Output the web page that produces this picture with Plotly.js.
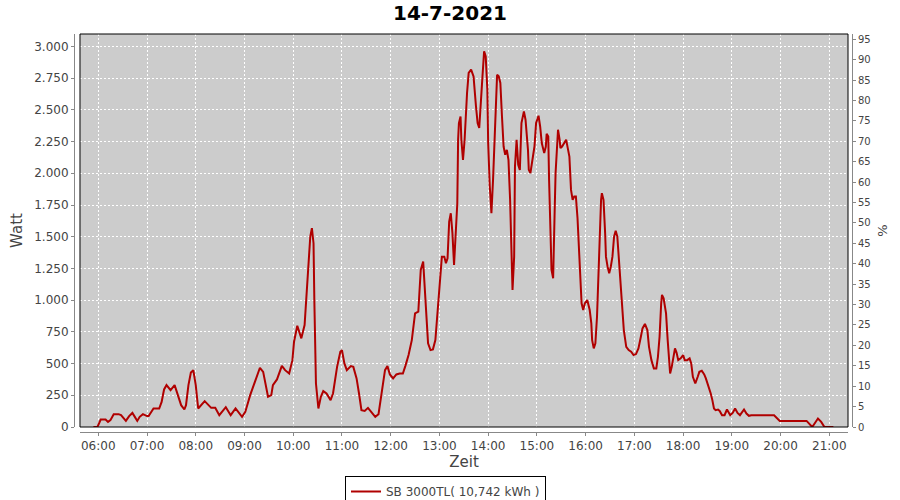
<!DOCTYPE html>
<html>
<head>
<meta charset="utf-8">
<script src="https://cdn.plot.ly/plotly-3.0.1.min.js"></script>
<style>html,body{margin:0;padding:0;background:#fff;}#chart{width:900px;height:500px;}</style>
</head>
<body>
<div id="chart"></div>
<script>
const chartDate = '2021-07-14';
const chartTitle = '14-7-2021';
const seriesName = 'SB 3000TL( 10,742 kWh )';

const times = ['05:54','05:59','06:03','06:09','06:12','06:15','06:19','06:25','06:28','06:34','06:38','06:42','06:45','06:48','06:51','06:55','07:00','07:02','07:08','07:15','07:18','07:21','07:24','07:29','07:34','07:38','07:42','07:46','07:48','07:51','07:54','07:57','08:00','08:03',
'08:11','08:19','08:24','08:29','08:37','08:43','08:49','08:57','09:01','09:07','09:13','09:19','09:23','09:29','09:33','09:35','09:40','09:46','09:50','09:55','09:59','10:01','10:05','10:10','10:14','10:16','10:19','10:21','10:23','10:25','10:26','10:28','10:31','10:34','10:37','10:41','10:46','10:49','10:54','10:58','11:00','11:03','11:06','11:11','11:14','11:18','11:21','11:24','11:28','11:32','11:37','11:41','11:45','11:48','11:51','11:53','11:56','11:59','12:03','12:07','12:11','12:15','12:18','12:22','12:26','12:28','12:30','12:34','12:35','12:37','12:40','12:42','12:44','12:46','12:49','12:52','12:55','12:58','13:01','13:03','13:06','13:08','13:10','13:12','13:14','13:16','13:18','13:20','13:22','13:23','13:24','13:26','13:27','13:29','13:31','13:34','13:36','13:39','13:42','13:45','13:47','13:49','13:51','13:53','13:55','13:57','13:59','14:00','14:02','14:04','14:06','14:07','14:09','14:11','14:13','14:15','14:17','14:19','14:21','14:23','14:25','14:27','14:29','14:30','14:32','14:33','14:35','14:37','14:39','14:41','14:44','14:46','14:49','14:50','14:52','14:54','14:57','14:59','15:02','15:04','15:06','15:09','15:11','15:12','15:14','15:15','15:16','15:17','15:18','15:20','15:21','15:22','15:23','15:25','15:26','15:28','15:29','15:31','15:34','15:36','15:38','15:40','15:42','15:44','15:46','15:48','15:50','15:52','15:53','15:55','15:57','15:59','16:02','16:05','16:07','16:08','16:10','16:12','16:14','16:15','16:17','16:19','16:20','16:22','16:24','16:25','16:27','16:29','16:31','16:33','16:35','16:37','16:39','16:41','16:43','16:45','16:47','16:50','16:53','16:56','16:59','17:02','17:05','17:08','17:10','17:13','17:16','17:18','17:21','17:24','17:27','17:29','17:31','17:33','17:34','17:36','17:39','17:41','17:43','17:44','17:46','17:48','17:50','17:52','17:54','17:57','18:00','18:02','18:05','18:08','18:10','18:12','18:15','18:18','18:20','18:23','18:26','18:28','18:31','18:34','18:36','18:38','18:40','18:43','18:45','18:48','18:51','18:54','18:58','19:01','19:04','19:07','19:10','19:13','19:15','19:18','19:21','19:24','19:52','19:59','20:32','20:39','20:46','20:50','20:54','21:05'];

const watt = [0,0,59,59,40,54,101,101,93,48,86,111,80,48,80,101,86,86,146,146,198,296,330,290,330,251,172,138,172,330,430,448,330,146,
204,151,151,93,156,93,146,80,119,251,356,467,435,238,251,330,375,482,448,422,527,672,798,699,804,1027,1291,1501,1567,1449,1000,343,146,238,283,264,212,264,474,593,606,501,448,480,474,383,264,133,127,151,111,80,101,238,369,448,480,414,383,414,422,422,480,567,685,790,896,909,1027,1238,1304,1106,869,659,606,612,685,922,1198,1343,1343,1291,1330,1619,1685,1528,1277,1528,1764,2264,2396,2448,2264,2106,2264,2633,2791,2817,2764,2527,2396,2357,2527,2764,2961,2922,2659,2238,1896,1685,1948,2132,2527,2777,2764,2712,2448,2211,2146,2185,2106,1791,1317,1080,1343,2053,2264,2067,2027,2396,2488,2422,2185,2027,2001,2080,2211,2396,2454,2369,2238,2159,2211,2312,2290,1948,1685,1422,1238,1172,1369,1738,2001,2185,2343,2264,2198,2211,2251,2264,2198,2132,1869,1791,1817,1817,1646,1343,1185,975,922,975,1001,922,817,685,620,659,869,1080,1501,1791,1843,1791,1528,1343,1264,1212,1264,1343,1501,1546,1501,1317,1106,948,764,632,606,593,567,575,620,711,777,812,764,632,527,462,462,553,711,975,1041,1015,896,685,448,422,474,553,620,585,527,541,567,527,527,541,501,396,343,396,435,443,414,383,330,264,212,146,133,138,127,93,93,138,93,111,146,111,93,119,138,106,88,93,93,48,48,0,67,40,0,0];

const xRange = ['05:37:30', '21:23:00'];
const yRange = [0, 3098];
const y2Range = [0, 96.3];

const xs = times.map(t => chartDate + ' ' + t);

const tickFont = {family: 'DejaVu Sans', size: 12, color: '#444444'};
const titleFont = {family: 'DejaVu Sans', size: 15, color: '#444444'};

const data = [
  {
    x: xs, y: watt, type: 'scatter', mode: 'lines', name: seriesName,
    line: {color: '#b00000', width: 2}, hoverinfo: 'x+y'
  },
  {
    x: [xs[0]], y: [null], yaxis: 'y2', type: 'scatter', mode: 'lines',
    showlegend: false, hoverinfo: 'skip', line: {color: 'rgba(0,0,0,0)'}
  }
];

const layout = {
  width: 900, height: 500,
  margin: {l: 74, r: 48, t: 34, b: 68, pad: 0},
  paper_bgcolor: '#ffffff',
  plot_bgcolor: '#cccccc',
  separators: ',.',
  title: {text: chartTitle, x: 0.5, xref: 'container', y: 0.974, yref: 'container', yanchor: 'middle',
          font: {family: 'DejaVu Sans', size: 20, color: '#000000', weight: 'bold'}},
  xaxis: {
    type: 'date', domain: [0.00771, 0.99486], anchor: 'free', position: 0,
    range: [chartDate + ' ' + xRange[0], chartDate + ' ' + xRange[1]],
    tick0: chartDate + ' 06:00', dtick: 3600000, tickformat: '%H:%M',
    showgrid: true, gridcolor: '#ffffff', gridwidth: 1, griddash: '2px,2px',
    showline: true, linecolor: '#888888', linewidth: 1,
    ticks: 'outside', ticklen: 3, tickcolor: '#888888',
    tickfont: tickFont, zeroline: false,
    title: {text: 'Zeit', font: titleFont, standoff: 3}
  },
  yaxis: {
    domain: [0.01256, 1], anchor: 'free', position: 0,
    range: yRange, tick0: 0, dtick: 250, tickformat: ',d',
    showgrid: true, gridcolor: '#ffffff', gridwidth: 1, griddash: '2px,2px',
    showline: true, linecolor: '#888888', linewidth: 1,
    ticks: 'outside', ticklen: 3, tickcolor: '#888888',
    tickfont: tickFont, zeroline: false,
    title: {text: 'Watt', font: titleFont, standoff: 6}
  },
  yaxis2: {
    overlaying: 'y', side: 'right', anchor: 'free', position: 1,
    range: y2Range, tick0: 0, dtick: 5,
    showgrid: false, zeroline: false,
    showline: true, linecolor: '#888888', linewidth: 1,
    ticks: 'outside', ticklen: 3, tickcolor: '#888888',
    tickfont: {family: 'DejaVu Sans', size: 10, color: '#444444'},
    title: {text: '%', font: {family: 'DejaVu Sans', size: 13, color: '#444444'}, standoff: 8}
  },
  shapes: [
    {type: 'rect', xref: 'x domain', yref: 'y domain', x0: 0, x1: 1, y0: 0, y1: 1,
     line: {color: '#000000', width: 1}, fillcolor: 'rgba(0,0,0,0)', layer: 'above'}
  ],
  showlegend: true,
  legend: {
    orientation: 'h', xref: 'container', yref: 'container', x: 0.495, xanchor: 'center',
    y: 0.048, yanchor: 'top', bgcolor: '#ffffff', bordercolor: '#000000', borderwidth: 1,
    font: {family: 'DejaVu Sans', size: 12, color: '#444444'}, itemwidth: 30
  }
};

Plotly.newPlot('chart', data, layout, {staticPlot: true, displayModeBar: false});
</script>
</body>
</html>
